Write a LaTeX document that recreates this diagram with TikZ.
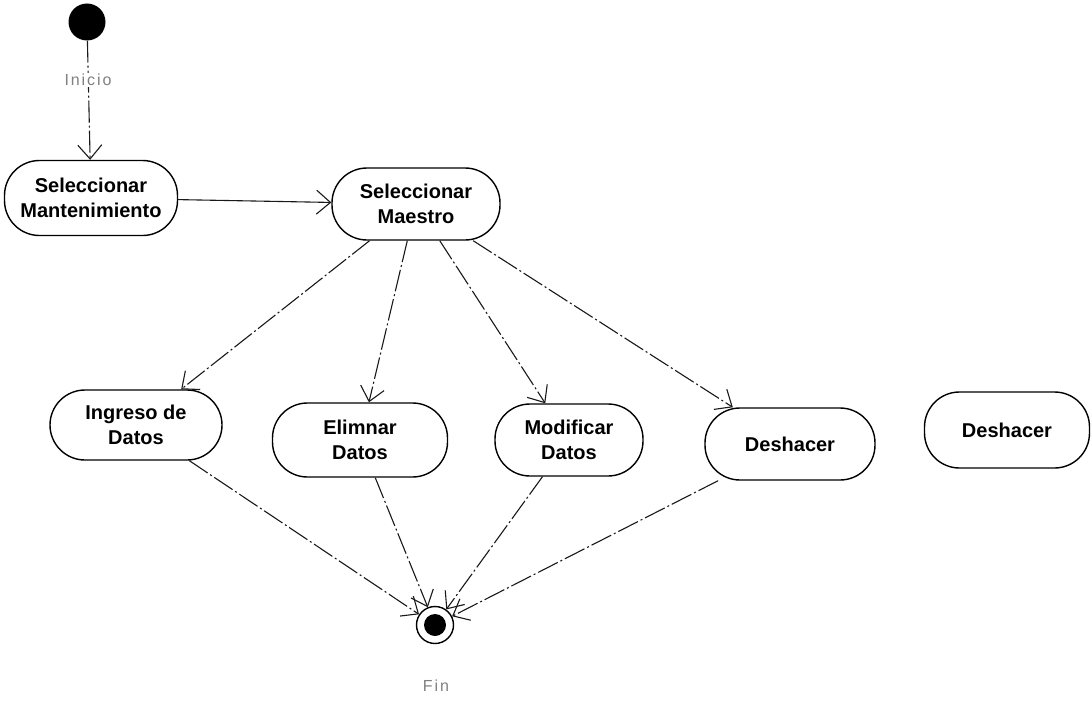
\documentclass[tikz,border=0pt]{standalone}
\usepackage{fontspec}
\setmainfont{Liberation Sans}
\newfontfamily\tagfont[LetterSpace=12]{Liberation Sans}
\usetikzlibrary{arrows.meta}
\begin{document}
\begin{tikzpicture}[x=1pt,y=-1pt,
  act/.style={draw, line width=1.4pt, rectangle, rounded corners=35pt,
    align=center, inner sep=0pt,
    font=\bfseries\fontsize{20}{25}\selectfont},
  flow/.style={draw=black!90, line width=1.1pt,
    -{Straight Barb[length=14pt,width=24pt,line width=1.1pt]}},
  faint/.style={flow, dash pattern=on 22pt off 3pt on 2pt off 3pt},
  tag/.style={text=black!50, font=\tagfont\fontsize{16}{18}\selectfont, inner sep=1pt}]
\useasboundingbox (0,0) rectangle (1092,701);

% initial and final states
\node[circle, fill=black, minimum size=37pt, inner sep=0pt] (start) at (87,22) {};
\node[circle, draw, line width=1.4pt, minimum size=37pt, inner sep=0pt] (fin) at (435,625) {};
\fill (fin.center) circle (11pt);

% activities
\node[act, minimum width=173pt, minimum height=75pt] (selmant) at (91,198) {Seleccionar\\Mantenimiento};
\node[act, minimum width=168pt, minimum height=72pt] (selmae) at (416,204) {Seleccionar\\Maestro};
\node[act, minimum width=172pt, minimum height=70pt] (ingreso) at (136,425) {Ingreso de\\Datos};
\node[act, minimum width=175pt, minimum height=74pt] (elim) at (360,440) {Elimnar\\Datos};
\node[act, minimum width=148pt, minimum height=72pt] (modif) at (569,440) {Modificar\\Datos};
\node[act, minimum width=170pt, minimum height=72pt] (desh) at (790,444) {Deshacer};
\node[act, minimum width=165pt, minimum height=76pt] (desh2) at (1007,430) {Deshacer};

% transitions
\draw[faint] (start) -- (selmant);
\node[tag, fill=white] (inicio) at (88,80) {Inicio};
\draw[flow] (selmant) -- (selmae);
\draw[faint] (selmae) -- (ingreso);
\draw[faint] (selmae) -- (elim);
\draw[faint] (selmae) -- (modif);
\draw[faint] (selmae) -- (desh);
\draw[faint] (ingreso) -- (fin);
\draw[faint] (elim) -- (fin);
\draw[faint] (modif) -- (fin);
\draw[faint] (desh) -- (fin);

\node[tag] (finlabel) at (436,686) {Fin};
\end{tikzpicture}
\end{document}
